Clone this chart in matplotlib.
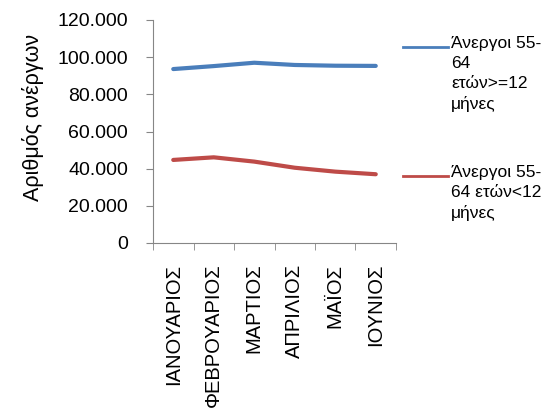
import numpy as np
import matplotlib.pyplot as plt
from matplotlib.ticker import FuncFormatter, FixedLocator
from matplotlib.lines import Line2D

plt.rcParams['font.family'] = ['Liberation Sans', 'DejaVu Sans']

# data
months = ["ΙΑΝΟΥΑΡΙΟΣ", "ΦΕΒΡΟΥΑΡΙΟΣ", "ΜΑΡΤΙΟΣ", "ΑΠΡΙΛΙΟΣ", "ΜΑΪΟΣ", "ΙΟΥΝΙΟΣ"]
long_term = [93600, 95200, 97000, 95800, 95400, 95300]
short_term = [44700, 46100, 43800, 40500, 38400, 37000]
label_long = "Άνεργοι 55-\n64\nετών>=12\nμήνες"
label_short = "Άνεργοι 55-\n64 ετών<12\nμήνες"

blue = '#4A7EBB'
red = '#BE4B48'
grey = '#868686'

fig = plt.figure(figsize=(5.53, 4.12), dpi=100)
ax = fig.add_axes([153/553, 1 - 243/412, 243/553, 223/412])

x = np.arange(len(months))
ax.plot(x, long_term, color=blue, lw=3, solid_capstyle='round')
ax.plot(x, short_term, color=red, lw=3, solid_capstyle='round')

ax.set_xlim(-0.5, len(months) - 0.5)
ax.set_ylim(0, 120000)
ax.set_yticks(np.arange(0, 120001, 20000))
ax.yaxis.set_major_formatter(FuncFormatter(lambda v, p: f"{int(v):,}".replace(',', '.')))
ax.tick_params(axis='y', labelsize=14, length=5, pad=13, color=grey)

ax.set_xticks(x)
ax.set_xticklabels(months, rotation=90, fontsize=14.5)
ax.xaxis.set_minor_locator(FixedLocator(np.arange(-0.5, len(months), 1)))
ax.tick_params(axis='x', which='major', length=0, pad=15)
ax.tick_params(axis='x', which='minor', length=5, color=grey)

for s in ['top', 'right']:
    ax.spines[s].set_visible(False)
for s in ['left', 'bottom']:
    ax.spines[s].set_color(grey)

ax.set_ylabel("Αριθμός ανέργων", fontsize=15.5)
ax.yaxis.set_label_coords(-0.45, 0.565)

# legend drawn by hand on the right
W, H = 553, 412
for y0, col, lab in [(47, blue, label_long), (176, red, label_short)]:
    fig.add_artist(Line2D([403/W, 448/W], [1 - y0/H, 1 - y0/H], color=col, lw=2,
                          transform=fig.transFigure))
    fig.text(451/W, 1 - (y0 - 11)/H, lab, fontsize=12.5, va='top', ha='left',
             linespacing=1.4, transform=fig.transFigure)

fig.savefig('out.png', dpi=100)
